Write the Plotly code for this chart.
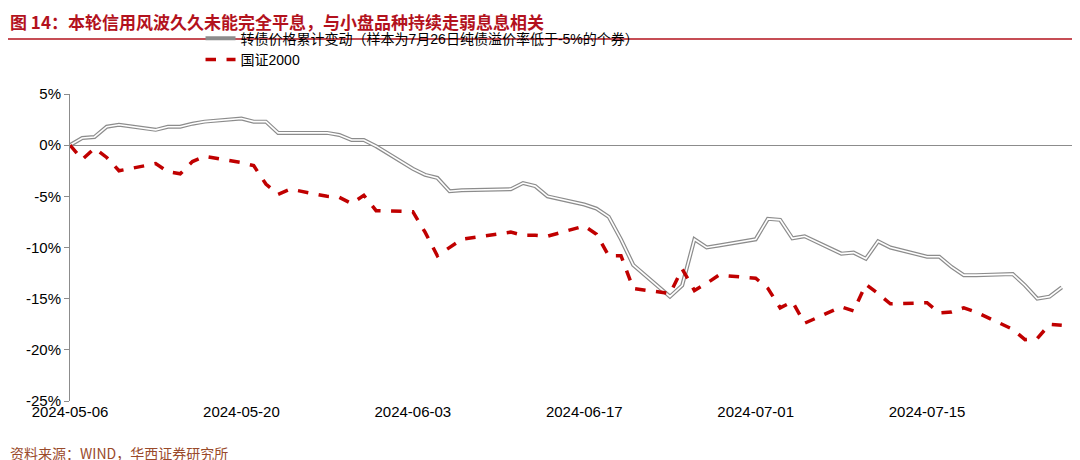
import plotly.graph_objects as go

dates = ["2024-05-06","2024-05-07","2024-05-08","2024-05-09","2024-05-10",
"2024-05-13","2024-05-14","2024-05-15","2024-05-16","2024-05-17",
"2024-05-20","2024-05-21","2024-05-22","2024-05-23","2024-05-24",
"2024-05-27","2024-05-28","2024-05-29","2024-05-30","2024-05-31",
"2024-06-03","2024-06-04","2024-06-05","2024-06-06","2024-06-07",
"2024-06-11","2024-06-12","2024-06-13","2024-06-14",
"2024-06-17","2024-06-18","2024-06-19","2024-06-20","2024-06-21",
"2024-06-24","2024-06-25","2024-06-26","2024-06-27","2024-06-28",
"2024-07-01","2024-07-02","2024-07-03","2024-07-04","2024-07-05",
"2024-07-08","2024-07-09","2024-07-10","2024-07-11","2024-07-12",
"2024-07-15","2024-07-16","2024-07-17","2024-07-18","2024-07-19",
"2024-07-22","2024-07-23","2024-07-24","2024-07-25","2024-07-26"]

cb_change = [0,0.7,0.8,1.8,2.0, 1.5,1.8,1.8,2.1,2.3, 2.6,2.3,2.3,1.2,1.2,
1.2,1.0,0.5,0.5,-0.1, -2.3,-2.9,-3.2,-4.5,-4.4, -4.3,-3.7,-4.0,-5.0,
-5.8,-6.2,-7.0,-9.2,-11.7, -14.8,-13.7,-9.2,-10.0,-9.8,
-9.2,-7.2,-7.3,-9.1,-8.9, -10.6,-10.5,-11.1,-9.4,-10.0,
-10.9,-10.9,-11.9,-12.7,-12.7, -12.6,-13.7,-15.0,-14.8,-13.9]

gz2000 = [0,-1.4,-0.3,-1.2,-2.5, -1.8,-2.6,-2.8,-1.6,-1.1, -1.7,-2.0,-3.8,-4.8,-4.3,
-5.0,-5.1,-5.7,-4.9,-6.4, -6.5,-8.5,-10.8,-10.0,-9.2, -8.5,-8.8,-8.8,-8.9,
-7.9,-8.7,-10.8,-10.8,-14.0, -14.5,-12.1,-14.2,-13.5,-12.7,
-13.0,-14.0,-15.9,-15.3,-17.4, -15.8,-16.2,-13.6,-14.5,-15.5,
-15.4,-16.4,-16.3,-15.9,-16.3, -18.0,-19.0,-18.9,-17.5,-17.6]

yticks = [5,0,-5,-10,-15,-20,-25]
xticks = ["2024-05-06","2024-05-20","2024-06-03","2024-06-17","2024-07-01","2024-07-15"]

name1 = "转债价格累计变动（样本为7月26日纯债溢价率低于-5%的个券）"
name2 = "国证2000"
font = "Liberation Sans, Noto Sans CJK SC"

fig = go.Figure()
fig.add_trace(go.Scatter(x=dates, y=cb_change, mode="lines", name=name1,
    line=dict(color="#8c8c8c", width=4)))
fig.add_trace(go.Scatter(x=dates, y=cb_change, mode="lines", showlegend=False,
    line=dict(color="white", width=1.6), hoverinfo="skip"))
fig.add_trace(go.Scatter(x=dates, y=gz2000, mode="lines", name=name2,
    line=dict(color="#c00000", width=3.5, dash="dash")))

title_y = 1 + (86 - 31) / 307

fig.update_layout(
    width=1080, height=460, paper_bgcolor="white", plot_bgcolor="white",
    margin=dict(l=62, r=14, t=86, b=67),
    font=dict(family=font, size=15, color="black"),
    legend=dict(orientation="h", x=0.13, y=1.06, yanchor="bottom", xanchor="left",
                entrywidth=560, font=dict(size=14), bgcolor="rgba(0,0,0,0)"),
    xaxis=dict(type="date", range=["2024-05-06", "2024-07-27"], tickvals=xticks,
               ticktext=xticks, showgrid=False, showline=False, zeroline=False,
               ticks="", tickfont=dict(size=15)),
    yaxis=dict(range=[-25, 5], tickvals=yticks, ticktext=[f"{v}%" for v in yticks],
               showgrid=False, showline=True, linecolor="#8c8c8c", ticks="outside",
               ticklen=5, tickcolor="#8c8c8c", zeroline=True, zerolinecolor="#8c8c8c",
               zerolinewidth=1, tickfont=dict(size=15)),
    annotations=[
        dict(text="<b>图 14：本轮信用风波久久未能完全平息，与小盘品种持续走弱息息相关</b>",
             xref="paper", yref="paper", x=-0.062, y=1.0, yshift=58, xanchor="left",
             yanchor="bottom", showarrow=False,
             font=dict(family="Noto Sans CJK SC", size=17, color="#b3121d")),
        dict(text="资料来源：WIND，华西证券研究所", xref="paper", yref="paper",
             x=-0.062, y=0, yshift=-64, xanchor="left", yanchor="bottom", showarrow=False,
             font=dict(family="Noto Sans CJK SC", size=14, color="#9a4a2a")),
    ],
    shapes=[
        dict(type="line", xref="paper", yref="paper", x0=-0.062, x1=1.014,
             y0=title_y, y1=title_y, line=dict(color="#b3121d", width=1.5)),
    ],
)
fig.write_html("out.html")
